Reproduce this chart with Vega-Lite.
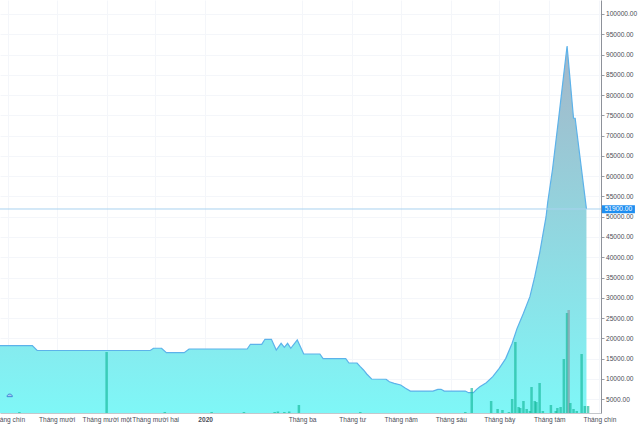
{
  "$schema": "https://vega.github.io/schema/vega-lite/v6.json",
  "width": 601,
  "height": 413,
  "autosize": {"type": "none"},
  "padding": {"left": 0, "top": 0, "right": 39, "bottom": 14},
  "background": "white",
  "config": {
    "view": {"stroke": null},
    "font": "Liberation Sans",
    "scale": {"continuousPadding": 0},
    "axis": {"labelOverlap": false, "labelSeparation": 0},
    "axisY": {"labelOverlap": false},
    "axisRight": {"labelOverlap": false}
  },
  "datasets": {
    "price": [
      {"date": "2019-08-15", "close": 18200},
      {"date": "2019-09-16", "close": 18200},
      {"date": "2019-09-19", "close": 17000},
      {"date": "2019-11-28", "close": 17000},
      {"date": "2019-11-30", "close": 17550},
      {"date": "2019-12-05", "close": 17550},
      {"date": "2019-12-08", "close": 16450},
      {"date": "2019-12-19", "close": 16450},
      {"date": "2019-12-22", "close": 17370},
      {"date": "2020-01-27", "close": 17370},
      {"date": "2020-01-29", "close": 18530},
      {"date": "2020-02-05", "close": 18530},
      {"date": "2020-02-07", "close": 19760},
      {"date": "2020-02-11", "close": 19760},
      {"date": "2020-02-14", "close": 17120},
      {"date": "2020-02-17", "close": 18770},
      {"date": "2020-02-19", "close": 17790},
      {"date": "2020-02-21", "close": 18770},
      {"date": "2020-02-23", "close": 17540},
      {"date": "2020-02-27", "close": 19590},
      {"date": "2020-03-02", "close": 16130},
      {"date": "2020-03-12", "close": 16130},
      {"date": "2020-03-14", "close": 14980},
      {"date": "2020-03-28", "close": 14980},
      {"date": "2020-03-30", "close": 13910},
      {"date": "2020-04-04", "close": 13910},
      {"date": "2020-04-06", "close": 13000},
      {"date": "2020-04-08", "close": 12190},
      {"date": "2020-04-10", "close": 11200},
      {"date": "2020-04-13", "close": 9970},
      {"date": "2020-04-22", "close": 9900},
      {"date": "2020-04-24", "close": 9300},
      {"date": "2020-04-27", "close": 8900},
      {"date": "2020-05-01", "close": 8490},
      {"date": "2020-05-04", "close": 7670},
      {"date": "2020-05-07", "close": 7000},
      {"date": "2020-05-21", "close": 7000},
      {"date": "2020-05-24", "close": 7420},
      {"date": "2020-05-26", "close": 7420},
      {"date": "2020-05-28", "close": 7000},
      {"date": "2020-06-10", "close": 7000},
      {"date": "2020-06-12", "close": 6590},
      {"date": "2020-06-15", "close": 6590},
      {"date": "2020-06-17", "close": 7420},
      {"date": "2020-06-19", "close": 8070},
      {"date": "2020-06-23", "close": 9050},
      {"date": "2020-06-27", "close": 10530},
      {"date": "2020-07-01", "close": 12600},
      {"date": "2020-07-05", "close": 15000},
      {"date": "2020-07-09", "close": 18770},
      {"date": "2020-07-12", "close": 22400},
      {"date": "2020-07-16", "close": 26170},
      {"date": "2020-07-20", "close": 30270},
      {"date": "2020-07-23", "close": 35200},
      {"date": "2020-07-26", "close": 40980},
      {"date": "2020-07-28", "close": 45500},
      {"date": "2020-07-30", "close": 50000},
      {"date": "2020-07-31", "close": 53500},
      {"date": "2020-08-03", "close": 61700},
      {"date": "2020-08-07", "close": 75000},
      {"date": "2020-08-10", "close": 85300},
      {"date": "2020-08-12", "close": 92100},
      {"date": "2020-08-16", "close": 74280},
      {"date": "2020-08-17", "close": 74280},
      {"date": "2020-08-24", "close": 51900}
    ],
    "volume": [
      {"date": "2019-09-08", "vol": 10000, "dir": "up"},
      {"date": "2019-11-01", "vol": 610000, "dir": "up"},
      {"date": "2019-12-07", "vol": 10000, "dir": "up"},
      {"date": "2020-01-05", "vol": 10000, "dir": "up"},
      {"date": "2020-01-25", "vol": 10000, "dir": "up"},
      {"date": "2020-02-13", "vol": 10000, "dir": "up"},
      {"date": "2020-02-15", "vol": 15000, "dir": "up"},
      {"date": "2020-02-19", "vol": 10000, "dir": "up"},
      {"date": "2020-02-22", "vol": 15000, "dir": "up"},
      {"date": "2020-02-28", "vol": 80000, "dir": "up"},
      {"date": "2020-04-06", "vol": 10000, "dir": "up"},
      {"date": "2020-06-10", "vol": 10000, "dir": "up"},
      {"date": "2020-06-14", "vol": 250000, "dir": "up"},
      {"date": "2020-06-26", "vol": 120000, "dir": "up"},
      {"date": "2020-06-30", "vol": 40000, "dir": "up"},
      {"date": "2020-07-03", "vol": 30000, "dir": "up"},
      {"date": "2020-07-07", "vol": 10000, "dir": "up"},
      {"date": "2020-07-09", "vol": 140000, "dir": "up"},
      {"date": "2020-07-11", "vol": 710000, "dir": "up"},
      {"date": "2020-07-13", "vol": 60000, "dir": "up"},
      {"date": "2020-07-14", "vol": 50000, "dir": "up"},
      {"date": "2020-07-16", "vol": 120000, "dir": "up"},
      {"date": "2020-07-18", "vol": 40000, "dir": "up"},
      {"date": "2020-07-20", "vol": 20000, "dir": "up"},
      {"date": "2020-07-21", "vol": 260000, "dir": "up"},
      {"date": "2020-07-23", "vol": 120000, "dir": "up"},
      {"date": "2020-07-24", "vol": 110000, "dir": "up"},
      {"date": "2020-07-26", "vol": 300000, "dir": "up"},
      {"date": "2020-07-28", "vol": 20000, "dir": "up"},
      {"date": "2020-08-02", "vol": 80000, "dir": "up"},
      {"date": "2020-08-05", "vol": 20000, "dir": "up"},
      {"date": "2020-08-06", "vol": 50000, "dir": "up"},
      {"date": "2020-08-08", "vol": 60000, "dir": "up"},
      {"date": "2020-08-10", "vol": 540000, "dir": "up"},
      {"date": "2020-08-12", "vol": 1000000, "dir": "up"},
      {"date": "2020-08-13", "vol": 1030000, "dir": "down"},
      {"date": "2020-08-14", "vol": 100000, "dir": "up"},
      {"date": "2020-08-16", "vol": 40000, "dir": "up"},
      {"date": "2020-08-18", "vol": 20000, "dir": "up"},
      {"date": "2020-08-21", "vol": 590000, "dir": "up"},
      {"date": "2020-08-23", "vol": 70000, "dir": "up"},
      {"date": "2020-08-25", "vol": 70000, "dir": "up"}
    ],
    "last": [{"close": 51900}]
  },
  "layer": [
    {
      "layer": [
        {
          "data": {"name": "price"},
          "mark": {
            "type": "area",
            "clip": true,
            "color": {
              "gradient": "linear",
              "x1": 0, "y1": 0, "x2": 0, "y2": 1,
              "stops": [
                {"offset": 0, "color": "#a4b6c8"},
                {"offset": 1, "color": "#7ef8f8"}
              ]
            }
          },
          "encoding": {
            "x": {
              "field": "date",
              "type": "temporal",
              "scale": {"padding": 0, "domain": [{"year": 2019, "month": 8, "date": 27, "utc": true}, {"year": 2020, "month": 9, "date": 2, "utc": true}]},
              "axis": {
                "orient": "bottom",
                "title": null,
                "values": [
                  {"year": 2019, "month": 9, "date": 1, "utc": true},
                  {"year": 2019, "month": 10, "date": 1, "utc": true},
                  {"year": 2019, "month": 11, "date": 1, "utc": true},
                  {"year": 2019, "month": 12, "date": 1, "utc": true},
                  {"year": 2020, "month": 1, "date": 1, "utc": true},
                  {"year": 2020, "month": 3, "date": 1, "utc": true},
                  {"year": 2020, "month": 4, "date": 1, "utc": true},
                  {"year": 2020, "month": 5, "date": 1, "utc": true},
                  {"year": 2020, "month": 6, "date": 1, "utc": true},
                  {"year": 2020, "month": 7, "date": 1, "utc": true},
                  {"year": 2020, "month": 8, "date": 1, "utc": true},
                  {"year": 2020, "month": 9, "date": 1, "utc": true}
                ],
                "labelExpr": "utcmonth(datum.value) == 0 ? '' + utcyear(datum.value) : 'Tháng ' + ['một','hai','ba','tư','năm','sáu','bảy','tám','chín','mười','mười một','mười hai'][utcmonth(datum.value)]",
                "labelFontWeight": {"condition": {"test": "utcmonth(datum.value) == 0", "value": "bold"}, "value": "normal"},
                "labelFont": "Liberation Sans",
                "labelFontSize": 6.6,
                "labelColor": "#4a4d57",
                "labelPadding": 3,
                "labelFlush": false,
                "labelOverlap": false,
                "ticks": false,
                "domainColor": "#c4c7cc",
                "grid": true,
                "gridColor": "#f4f6fa"
              }
            },
            "y": {
              "field": "close",
              "type": "quantitative",
              "scale": {"domain": [1580, 103450], "zero": false, "nice": false, "padding": 0},
              "axis": {
                "orient": "right",
                "title": null,
                "values": [5000, 10000, 15000, 20000, 25000, 30000, 35000, 40000, 45000, 50000, 55000, 60000, 65000, 70000, 75000, 80000, 85000, 90000, 95000, 100000],
                "tickCount": 20,
                "format": ".2f",
                "labelFont": "Liberation Sans",
                "labelFontSize": 6.6,
                "labelColor": "#4a4d57",
                "labelPadding": 1.5,
                "labelOverlap": false,
                "labelFlush": false,
                "tickSize": 3,
                "tickColor": "#9a9ea6",
                "domainColor": "#8d9199",
                "grid": true,
                "gridColor": "#f4f6fa"
              }
            }
          }
        },
        {
          "data": {"name": "price"},
          "mark": {"type": "line", "clip": true, "color": "#5cb2ea", "strokeWidth": 1.2},
          "encoding": {
            "x": {"field": "date", "type": "temporal", "scale": {"padding": 0, "domain": [{"year": 2019, "month": 8, "date": 27, "utc": true}, {"year": 2020, "month": 9, "date": 2, "utc": true}]}},
            "y": {"field": "close", "type": "quantitative", "scale": {"domain": [1580, 103450], "zero": false, "nice": false, "padding": 0}}
          }
        },
        {
          "data": {"name": "last"},
          "mark": {"type": "rule", "color": "#a9d2f0", "strokeWidth": 1},
          "encoding": {
            "y": {"field": "close", "type": "quantitative", "scale": {"domain": [1580, 103450], "zero": false, "nice": false, "padding": 0}}
          }
        },
        {
          "data": {"name": "last"},
          "mark": {"type": "rect", "color": "#1e8ef0"},
          "encoding": {
            "x": {"datum": {"year": 2020, "month": 9, "date": 2, "hours": 14, "utc": true}, "type": "temporal", "scale": {"padding": 0, "domain": [{"year": 2019, "month": 8, "date": 27, "utc": true}, {"year": 2020, "month": 9, "date": 2, "utc": true}]}},
            "x2": {"datum": {"year": 2020, "month": 9, "date": 23, "utc": true}},
            "y": {"datum": 52850, "type": "quantitative", "scale": {"domain": [1580, 103450], "zero": false, "nice": false, "padding": 0}},
            "y2": {"datum": 50850}
          }
        },
        {
          "data": {"name": "last"},
          "mark": {"type": "text", "color": "white", "font": "Liberation Sans", "fontSize": 6.6, "align": "center", "baseline": "middle"},
          "encoding": {
            "x": {"datum": {"year": 2020, "month": 9, "date": 12, "hours": 19, "utc": true}, "type": "temporal", "scale": {"padding": 0, "domain": [{"year": 2019, "month": 8, "date": 27, "utc": true}, {"year": 2020, "month": 9, "date": 2, "utc": true}]}},
            "y": {"field": "close", "type": "quantitative", "scale": {"domain": [1580, 103450], "zero": false, "nice": false, "padding": 0}},
            "text": {"field": "close", "type": "quantitative", "format": ".2f"}
          }
        },
        {
          "data": {"name": "last"},
          "mark": {"type": "point", "shape": "M-1,0.6 C-1,-0.7 1,-0.7 1,0.6 Z", "filled": true, "fill": "#a9cdf2", "stroke": "#3f86d6", "strokeWidth": 1, "size": 28, "opacity": 1},
          "encoding": {
            "x": {"datum": {"year": 2019, "month": 9, "date": 2, "utc": true}, "type": "temporal", "scale": {"padding": 0, "domain": [{"year": 2019, "month": 8, "date": 27, "utc": true}, {"year": 2020, "month": 9, "date": 2, "utc": true}]}},
            "y": {"datum": 6000, "type": "quantitative", "scale": {"domain": [1580, 103450], "zero": false, "nice": false, "padding": 0}}
          }
        }
      ]
    },
    {
      "data": {"name": "volume"},
      "mark": {"type": "bar", "width": 2.5, "opacity": 0.65},
      "encoding": {
        "x": {"field": "date", "type": "temporal", "scale": {"padding": 0, "domain": [{"year": 2019, "month": 8, "date": 27, "utc": true}, {"year": 2020, "month": 9, "date": 2, "utc": true}]}},
        "y": {"field": "vol", "type": "quantitative", "scale": {"domain": [0, 4130000], "nice": false, "padding": 0}, "axis": null},
        "color": {"field": "dir", "type": "nominal", "scale": {"domain": ["up", "down"], "range": ["#14b89a", "#8c9aa5"]}, "legend": null}
      }
    }
  ],
  "resolve": {"scale": {"y": "independent"}}
}
